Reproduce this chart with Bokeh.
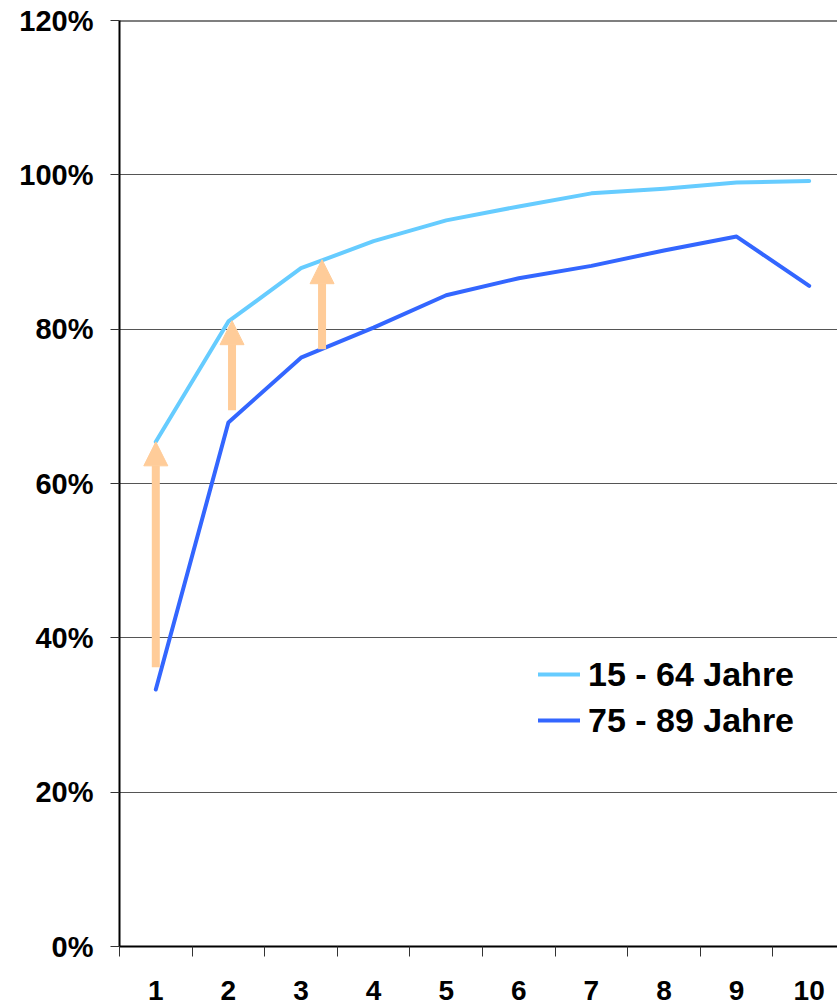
from bokeh.plotting import figure
from bokeh.models import (Range1d, FixedTicker, Arrow, NormalHead, Legend, LegendItem,
                          Span, ColumnDataSource)
from bokeh.embed import file_html
from bokeh.resources import INLINE

# ---- data ----
categories = ["1", "2", "3", "4", "5", "6", "7", "8", "9", "10"]
x_pos = [1, 2, 3, 4, 5, 6, 7, 8, 9, 10]
series_names = ["15 - 64 Jahre", "75 - 89 Jahre"]
young = [65.4, 81.0, 87.9, 91.4, 94.1, 95.9, 97.6, 98.2, 99.0, 99.2]
old = [33.3, 67.9, 76.3, 80.2, 84.4, 86.6, 88.2, 90.2, 92.0, 85.6]
y_ticks = [0, 20, 40, 60, 80, 100, 120]
y_tick_labels = ["0%", "20%", "40%", "60%", "80%", "100%", "120%"]
arrow_x = [1.0, 2.05, 3.29]
arrow_from = [36.2, 69.5, 77.4]
arrow_to = [65.4, 81.1, 89.0]

FONT = "Liberation Sans"
LIGHT = "#66CCFF"
DARK = "#3366FF"
PEACH = "#FFCC99"

p = figure(width=837, height=1006,
           x_range=Range1d(0.5, 10.39), y_range=Range1d(0, 120),
           output_backend="svg", toolbar_location=None,
           min_border_left=119, min_border_right=0,
           min_border_top=20, min_border_bottom=60)
p.outline_line_color = None
p.background_fill_color = "white"

# grid
p.xgrid.visible = False
p.ygrid.ticker = FixedTicker(ticks=y_ticks[1:-1])
p.ygrid.grid_line_color = "#555555"
p.ygrid.grid_line_width = 1

# top border line at 120%
p.add_layout(Span(location=y_ticks[-1], dimension="width", line_color="black", line_width=2))

# x axis
xa = p.xaxis[0]
xa.ticker = FixedTicker(ticks=x_pos, minor_ticks=[x - 0.5 for x in x_pos] + [x_pos[-1] + 0.5])
xa.major_label_overrides = {x: c for x, c in zip(x_pos, categories)}
xa.major_tick_line_color = None
xa.major_tick_out = 0
xa.major_tick_in = 0
xa.minor_tick_line_color = "#333333"
xa.minor_tick_out = 10
xa.minor_tick_in = 0
xa.axis_line_color = "black"
xa.axis_line_width = 2
xa.major_label_standoff = 24
xa.major_label_text_font = FONT
xa.major_label_text_font_style = "bold"
xa.major_label_text_font_size = "28px"
xa.major_label_text_color = "black"

# y axis
ya = p.yaxis[0]
ya.ticker = FixedTicker(ticks=y_ticks, minor_ticks=[])
ya.major_label_overrides = {t: l for t, l in zip(y_ticks, y_tick_labels)}
ya.major_tick_line_color = "#333333"
ya.major_tick_out = 9
ya.major_tick_in = 0
ya.minor_tick_line_color = None
ya.axis_line_color = "black"
ya.axis_line_width = 2
ya.major_label_standoff = 17
ya.major_label_text_font = FONT
ya.major_label_text_font_style = "bold"
ya.major_label_text_font_size = "29px"
ya.major_label_text_color = "black"

# lines
src = ColumnDataSource(dict(x=x_pos, young=young, old=old))
r1 = p.line("x", "young", source=src, line_color=LIGHT, line_width=4,
            line_cap="round", line_join="round")
r2 = p.line("x", "old", source=src, line_color=DARK, line_width=4,
            line_cap="round", line_join="round")

# arrows
asrc = ColumnDataSource(dict(x=arrow_x, y0=arrow_from, y1=arrow_to))
p.add_layout(Arrow(x_start="x", y_start="y0", x_end="x", y_end="y1", source=asrc,
                   line_color=PEACH, line_width=8,
                   end=NormalHead(size=24, fill_color=PEACH, line_color=PEACH, line_width=1)))

# legend
legend = Legend(items=[LegendItem(label=series_names[0], renderers=[r1]),
                       LegendItem(label=series_names[1], renderers=[r2])],
                location=(419, 203),
                glyph_width=42, glyph_height=46, label_height=46,
                label_standoff=8, spacing=0, padding=0, margin=0,
                border_line_color=None, background_fill_alpha=0,
                label_text_font=FONT, label_text_font_style="bold",
                label_text_font_size="34px", label_text_color="black")
p.add_layout(legend)

open("out.html", "w").write(file_html(p, INLINE))
